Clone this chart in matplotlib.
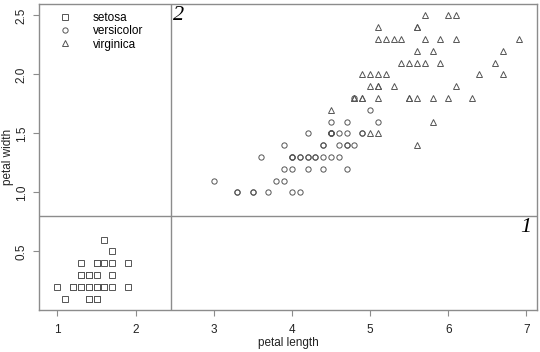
import matplotlib
matplotlib.use("Agg")
import matplotlib.pyplot as plt

species = ["setosa", "versicolor", "virginica"]
setosa_len = [1.4,1.4,1.3,1.5,1.4,1.7,1.4,1.5,1.4,1.5,1.5,1.6,1.4,1.1,1.2,1.5,1.3,1.4,1.7,1.5,1.7,1.5,1.0,1.7,1.9,1.6,1.6,1.5,1.4,1.6,1.6,1.5,1.5,1.4,1.5,1.2,1.3,1.4,1.3,1.5,1.3,1.3,1.3,1.6,1.9,1.4,1.6,1.4,1.5,1.4]
setosa_wid = [0.2,0.2,0.2,0.2,0.2,0.4,0.3,0.2,0.2,0.1,0.2,0.2,0.1,0.1,0.2,0.4,0.4,0.3,0.3,0.3,0.2,0.4,0.2,0.5,0.2,0.2,0.4,0.2,0.2,0.2,0.2,0.4,0.1,0.2,0.2,0.2,0.2,0.1,0.2,0.2,0.3,0.3,0.2,0.6,0.4,0.3,0.2,0.2,0.2,0.2]
versicolor_len = [4.7,4.5,4.9,4.0,4.6,4.5,4.7,3.3,4.6,3.9,3.5,4.2,4.0,4.7,3.6,4.4,4.5,4.1,4.5,3.9,4.8,4.0,4.9,4.7,4.3,4.4,4.8,5.0,4.5,3.5,3.8,3.7,3.9,5.1,4.5,4.5,4.7,4.4,4.1,4.0,4.4,4.6,4.0,3.3,4.2,4.2,4.2,4.3,3.0,4.1]
versicolor_wid = [1.4,1.5,1.5,1.3,1.5,1.3,1.6,1.0,1.3,1.4,1.0,1.5,1.0,1.4,1.3,1.4,1.5,1.0,1.5,1.1,1.8,1.3,1.5,1.2,1.3,1.4,1.4,1.7,1.5,1.0,1.1,1.0,1.2,1.6,1.5,1.6,1.5,1.3,1.3,1.3,1.2,1.4,1.2,1.0,1.3,1.2,1.3,1.3,1.1,1.3]
virginica_len = [6.0,5.1,5.9,5.6,5.8,6.6,4.5,6.3,5.8,6.1,5.1,5.3,5.5,5.0,5.1,5.3,5.5,6.7,6.9,5.0,5.7,4.9,6.7,4.9,5.7,6.0,4.8,4.9,5.6,5.8,6.1,6.4,5.6,5.1,5.6,6.1,5.6,5.5,4.8,5.4,5.6,5.1,5.1,5.9,5.7,5.2,5.0,5.2,5.4,5.1]
virginica_wid = [2.5,1.9,2.1,1.8,2.2,2.1,1.7,1.8,1.8,2.5,2.0,1.9,2.1,2.0,2.4,2.3,1.8,2.2,2.3,1.5,2.3,2.0,2.0,1.8,2.1,1.8,1.8,1.8,2.1,1.6,1.9,2.0,2.2,1.5,1.4,2.3,2.4,1.8,1.8,2.1,2.4,2.3,1.9,2.3,2.5,2.3,1.9,2.0,2.3,1.8]
split_x = 2.45
split_y = 0.8
region_labels = ["1", "2"]
x_ticks = [1, 2, 3, 4, 5, 6, 7]
y_ticks = [0.5, 1.0, 1.5, 2.0, 2.5]

plt.rcParams['font.family'] = ['Liberation Sans', 'DejaVu Sans']
fig = plt.figure(figsize=(5.4, 3.52), dpi=100)
ax = fig.add_axes([39/540, 1-310/352, 498/540, 306/352])

gray = '#555555'
lc = '#8c8c8c'
data = [(setosa_len, setosa_wid, 's'), (versicolor_len, versicolor_wid, 'o'), (virginica_len, virginica_wid, '^')]
for (xs, ys, m), name in zip(data, species):
    ax.plot(xs, ys, linestyle='none', marker=m, markersize=3.8, markerfacecolor='none',
            markeredgecolor=gray, markeredgewidth=0.7, label=name)

ax.set_xlim(0.764, 7.136)
ax.set_ylim(0.004, 2.596)
ax.axvline(split_x, color=lc, lw=1.0)
ax.axhline(split_y, color=lc, lw=1.0)

ax.text(split_x + 0.03, 2.596 - 0.02, region_labels[1], ha='left', va='top', fontsize=16,
        family=['Liberation Serif'], style='italic')
ax.text(7.136 - 0.07, split_y - 0.02, region_labels[0], ha='right', va='top', fontsize=16,
        family=['Liberation Serif'], style='italic')

ax.set_xticks(x_ticks)
ax.set_yticks(y_ticks)
ax.set_xticklabels([str(t) for t in x_ticks])
ax.set_yticklabels(["%.1f" % t for t in y_ticks], rotation=90, va='center')
ax.tick_params(colors=lc, labelcolor='#222222', labelsize=8.5, length=4, width=0.8)
ax.tick_params(axis='x', pad=6)
ax.tick_params(axis='y', pad=4)
for s in ax.spines.values():
    s.set_color(lc)
    s.set_linewidth(1.0)

ax.set_xlabel("petal length", fontsize=8.5, color='#222222', va='center')
ax.set_ylabel("petal width", fontsize=8.5, color='#222222', va='center')
ax.xaxis.set_label_coords(0.5, -0.108)
ax.yaxis.set_label_coords(-0.062, 0.5)

leg = ax.legend(loc='upper left', frameon=False, fontsize=8.5, handletextpad=1.3,
                handlelength=2.0, borderpad=0.4, borderaxespad=0.0, labelspacing=0.12,
                bbox_to_anchor=(0.02, 0.99))

fig.savefig("out.png", dpi=100)
